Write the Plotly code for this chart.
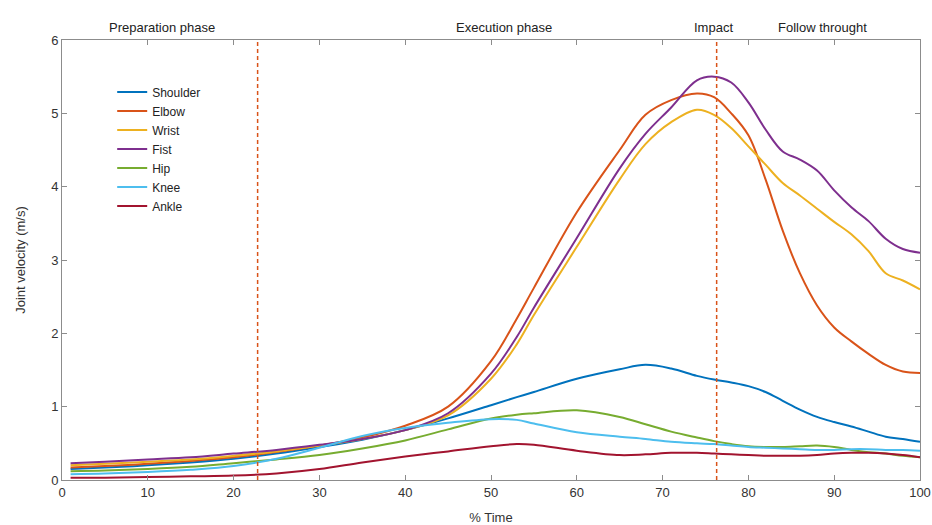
import plotly.graph_objects as go

# Normalised time (% of the punch) at which joint velocities were sampled
time_pct = [1, 5, 10, 15, 20, 25, 30, 35, 40, 45, 50, 53, 55, 60, 65, 68, 71, 74, 76,
            78, 80, 82, 84, 86, 88, 90, 92, 94, 96, 98, 100]

# Joint velocities (m/s)
shoulder = [0.15, 0.17, 0.20, 0.24, 0.29, 0.36, 0.45, 0.55, 0.68, 0.84, 1.02, 1.13, 1.20, 1.38,
            1.51, 1.57, 1.52, 1.42, 1.37, 1.33, 1.28, 1.20, 1.08, 0.96, 0.86, 0.79, 0.73, 0.66,
            0.59, 0.56, 0.52]
elbow = [0.17, 0.19, 0.22, 0.26, 0.31, 0.38, 0.47, 0.58, 0.74, 1.00, 1.62, 2.20, 2.62, 3.65,
         4.50, 4.98, 5.18, 5.27, 5.22, 5.00, 4.70, 4.10, 3.40, 2.82, 2.38, 2.08, 1.89, 1.72,
         1.57, 1.48, 1.46]
wrist = [0.20, 0.22, 0.25, 0.28, 0.33, 0.39, 0.47, 0.56, 0.68, 0.88, 1.38, 1.85, 2.25, 3.18,
         4.10, 4.58, 4.88, 5.05, 4.98, 4.80, 4.55, 4.30, 4.05, 3.88, 3.70, 3.52, 3.35, 3.12,
         2.82, 2.72, 2.60]
fist = [0.23, 0.25, 0.28, 0.31, 0.36, 0.41, 0.48, 0.56, 0.68, 0.91, 1.45, 1.95, 2.35, 3.30,
        4.25, 4.72, 5.08, 5.45, 5.50, 5.42, 5.15, 4.78, 4.48, 4.37, 4.22, 3.95, 3.72, 3.53,
        3.29, 3.15, 3.10]
hip = [0.12, 0.13, 0.15, 0.18, 0.23, 0.28, 0.34, 0.43, 0.54, 0.69, 0.84, 0.89, 0.91, 0.95,
       0.86, 0.76, 0.66, 0.58, 0.53, 0.49, 0.46, 0.45, 0.45, 0.46, 0.47, 0.45, 0.41, 0.38,
       0.36, 0.33, 0.31]
knee = [0.08, 0.09, 0.11, 0.14, 0.19, 0.29, 0.44, 0.60, 0.71, 0.78, 0.83, 0.82, 0.77, 0.65,
        0.59, 0.56, 0.52, 0.50, 0.49, 0.47, 0.45, 0.44, 0.43, 0.42, 0.41, 0.41, 0.42, 0.42,
        0.41, 0.41, 0.40]
ankle = [0.03, 0.03, 0.04, 0.05, 0.06, 0.09, 0.15, 0.24, 0.32, 0.39, 0.46, 0.49, 0.48, 0.40,
         0.34, 0.35, 0.37, 0.37, 0.36, 0.35, 0.34, 0.33, 0.33, 0.33, 0.34, 0.36, 0.37, 0.37,
         0.36, 0.34, 0.31]

series_names = ["Shoulder", "Elbow", "Wrist", "Fist", "Hip", "Knee", "Ankle"]
series_values = [shoulder, elbow, wrist, fist, hip, knee, ankle]
series_colors = ["#0072BD", "#D95319", "#EDB120", "#7E2F8E", "#77AC30", "#4DBEEE", "#A2142F"]

# Phase boundaries (% time) and phase labels
phase_bounds = [22.8, 76.3]
phase_labels = ["Preparation phase", "Execution phase", "Impact", "Follow throught"]
phase_label_x = [11.7, 51.5, 75.9, 88.6]

x_ticks = list(range(0, 101, 10))
y_ticks = list(range(0, 7))

FONT = "Liberation Sans, Arial, sans-serif"

fig = go.Figure()
for name, vals, col in zip(series_names, series_values, series_colors):
    fig.add_trace(go.Scatter(
        x=time_pct, y=vals, name=name, mode="lines",
        line=dict(color=col, width=2, shape="spline", smoothing=1.0),
    ))

for xb in phase_bounds:
    fig.add_shape(type="line", xref="x", yref="paper", x0=xb, x1=xb, y0=0, y1=1,
                  line=dict(color="#D95319", width=1.5, dash="4px,3px"))

for lbl, lx in zip(phase_labels, phase_label_x):
    fig.add_annotation(text=lbl, x=lx, xref="x", y=1.05, yref="paper",
                       showarrow=False, font=dict(size=13, color="#222222", family=FONT))

axis_common = dict(
    showline=True, linecolor="#8c8c8c", linewidth=1, mirror="ticks",
    ticks="inside", ticklen=5, tickcolor="#8c8c8c",
    showgrid=False, zeroline=False, automargin=False,
    tickfont=dict(size=13, color="#333333", family=FONT),
)

fig.update_layout(
    width=932, height=525,
    margin=dict(l=62, r=12, t=40, b=45),
    paper_bgcolor="white", plot_bgcolor="white",
    font=dict(family=FONT, color="#333333"),
    xaxis=dict(range=[0, 100], tickvals=x_ticks,
               title=dict(text="% Time", font=dict(size=13, color="#333333"), standoff=14),
               **axis_common),
    yaxis=dict(range=[0, 6], tickvals=y_ticks,
               title=dict(text="Joint velocity (m/s)", font=dict(size=13, color="#333333"), standoff=22),
               **axis_common),
    legend=dict(x=0.0585, y=0.915, xanchor="left", yanchor="top",
                bgcolor="rgba(0,0,0,0)", borderwidth=0,
                font=dict(size=12, color="#222222", family=FONT),
                itemwidth=30, tracegroupgap=0),
    showlegend=True,
)

fig.write_html("out.html")
